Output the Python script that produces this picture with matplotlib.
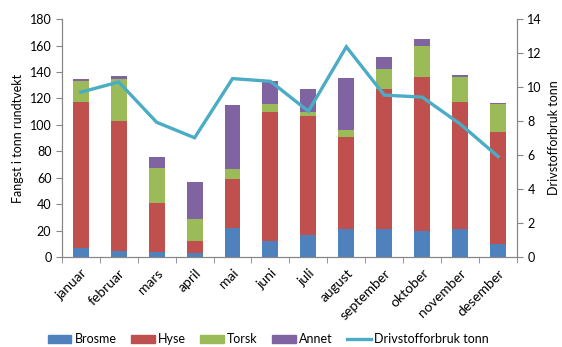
import numpy as np
import matplotlib.pyplot as plt
from matplotlib.lines import Line2D
from matplotlib.patches import Patch

plt.rcParams['font.family'] = ['Lato', 'DejaVu Sans']

months = ['januar', 'februar', 'mars', 'april', 'mai', 'juni', 'juli',
          'august', 'september', 'oktober', 'november', 'desember']

# catch per species, tonnes round weight
brosme = [7, 5, 4, 3, 22, 12, 17, 21.4, 21.6, 20, 21, 10]
hyse = [110, 98, 36.6, 9, 37, 97.7, 90, 69.6, 105.8, 116.5, 96, 84.6]
torsk = [16, 32, 26.8, 16.7, 7.4, 6.3, 2.7, 4.8, 14.6, 23.3, 19.3, 21.2]
annet = [2, 2, 8.4, 28.3, 48.6, 17, 17.7, 40, 9, 5.2, 1.7, 0.8]

# fuel consumption, tonnes
fuel = [9.7, 10.3, 7.93, 7.02, 10.5, 10.34, 8.58, 12.37, 9.53, 9.41, 7.83, 5.92]

c_brosme = '#4F81BD'
c_hyse = '#C0504D'
c_torsk = '#9BBB59'
c_annet = '#8064A2'
c_fuel = '#4BACC6'
grey = '#868686'

fig = plt.figure(figsize=(5.62, 3.47), dpi=100)
ax = fig.add_axes([0.110, 0.259, 0.810, 0.686])

x = np.arange(len(months))
w = 0.42
b1 = np.array(brosme)
b2 = b1 + np.array(hyse)
b3 = b2 + np.array(torsk)
ax.bar(x, brosme, w, color=c_brosme, edgecolor='none')
ax.bar(x, hyse, w, bottom=b1, color=c_hyse, edgecolor='none')
ax.bar(x, torsk, w, bottom=b2, color=c_torsk, edgecolor='none')
ax.bar(x, annet, w, bottom=b3, color=c_annet, edgecolor='none')

ax.set_xlim(-0.5, len(months) - 0.5)
ax.set_ylim(0, 180)
ax.set_yticks(np.arange(0, 181, 20))
ax.set_xticks(x)
ax.set_xticklabels(months, rotation=45, ha='right', rotation_mode='anchor', fontsize=10)
ax.set_xticks(np.arange(-0.5, len(months)), minor=True)
ax.tick_params(axis='x', which='major', length=0, pad=7)
ax.tick_params(axis='x', which='minor', length=4, color=grey, direction='out')
ax.tick_params(axis='y', length=4, color=grey, labelsize=9, direction='out')
ax.set_ylabel('Fangst i tonn rundtvekt', fontsize=9)

ax2 = ax.twinx()
ax2.plot(x, fuel, color=c_fuel, lw=2.4, solid_joinstyle='miter')
ax2.set_ylim(0, 14)
ax2.set_yticks(np.arange(0, 15, 2))
ax2.tick_params(axis='y', length=4, color=grey, labelsize=9, direction='out')
ax2.set_ylabel('Drivstofforbruk tonn', fontsize=9)

for a in (ax, ax2):
    a.spines['top'].set_visible(False)
    for s in ('left', 'right', 'bottom'):
        a.spines[s].set_color(grey)
        a.spines[s].set_linewidth(0.8)

handles = [Patch(color=c_brosme, label='Brosme'),
           Patch(color=c_hyse, label='Hyse'),
           Patch(color=c_torsk, label='Torsk'),
           Patch(color=c_annet, label='Annet'),
           Line2D([], [], color=c_fuel, lw=2.4, label='Drivstofforbruk tonn')]
fig.legend(handles=handles, loc='center', bbox_to_anchor=(268 / 562, 1 - 339 / 347),
           ncol=5, frameon=False, fontsize=9, handlelength=1.9, handleheight=0.6,
           columnspacing=1.15, handletextpad=0.25)

fig.savefig('out.png', dpi=100)
